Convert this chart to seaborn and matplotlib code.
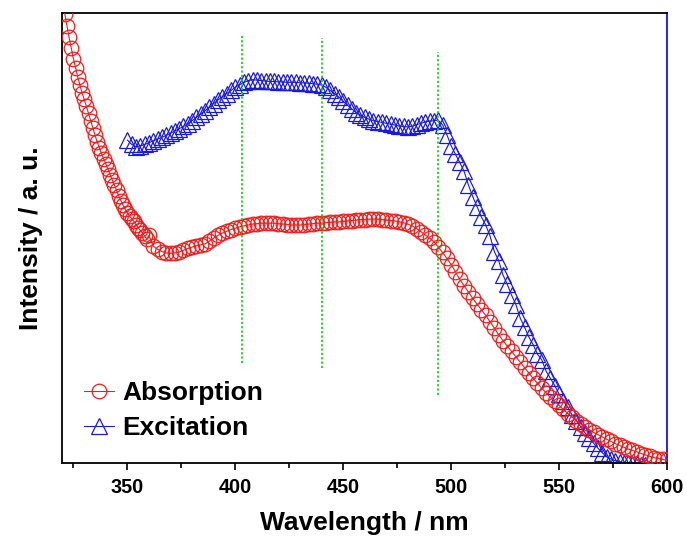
import numpy as np
import pandas as pd
import matplotlib
matplotlib.use("Agg")
import matplotlib.pyplot as plt
import seaborn as sns

# Absorption spectrum: 1 nm steps on the steep UV edge, 2 nm steps afterwards
abs_nm = np.concatenate([np.arange(320, 361, 1), np.arange(362, 601, 2)])
abs_val = [
    1.030, 0.998, 0.972, 0.946, 0.922, 0.899, 0.878, 0.858, 0.840, 0.823,
    0.808, 0.793, 0.777, 0.761, 0.745, 0.729, 0.714, 0.700, 0.688, 0.676,
    0.665, 0.653, 0.641, 0.629, 0.618, 0.606, 0.594, 0.583, 0.573, 0.564,
    0.556, 0.549, 0.543, 0.537, 0.530, 0.523, 0.517, 0.511, 0.504, 0.498,
    0.506,
    # 362 .. 400
    0.482, 0.475, 0.470, 0.467, 0.466, 0.467, 0.469, 0.473, 0.477, 0.480,
    0.483, 0.485, 0.487, 0.493, 0.500, 0.506, 0.511, 0.515, 0.519, 0.522,
    # 402 .. 440
    0.525, 0.527, 0.529, 0.531, 0.532, 0.533, 0.533, 0.533, 0.533, 0.532,
    0.531, 0.530, 0.529, 0.529, 0.529, 0.530, 0.531, 0.532, 0.533, 0.533,
    # 442 .. 480
    0.534, 0.535, 0.536, 0.536, 0.537, 0.538, 0.539, 0.540, 0.541, 0.541,
    0.542, 0.542, 0.542, 0.541, 0.540, 0.539, 0.538, 0.536, 0.534, 0.531,
    # 482 .. 520
    0.527, 0.521, 0.514, 0.507, 0.500, 0.492, 0.480, 0.468, 0.455, 0.441,
    0.425, 0.408, 0.394, 0.380, 0.366, 0.353, 0.341, 0.328, 0.314, 0.300,
    # 522 .. 560
    0.285, 0.272, 0.260, 0.248, 0.236, 0.224, 0.212, 0.200, 0.188, 0.177,
    0.166, 0.156, 0.146, 0.137, 0.128, 0.119, 0.110, 0.102, 0.094, 0.087,
    # 562 .. 600
    0.080, 0.074, 0.068, 0.063, 0.058, 0.053, 0.048, 0.043, 0.039, 0.035,
    0.031, 0.028, 0.025, 0.021, 0.018, 0.015, 0.012, 0.010, 0.008, 0.006,
]

# Excitation spectrum, 2 nm steps
exc_nm = np.arange(350, 591, 2)
exc_val = [
    # 350 .. 398
    0.718, 0.708, 0.703, 0.705, 0.708, 0.712, 0.716, 0.720, 0.724, 0.728,
    0.733, 0.738, 0.743, 0.748, 0.754, 0.761, 0.768, 0.776, 0.783, 0.791,
    0.799, 0.807, 0.814, 0.821, 0.828,
    # 400 .. 448
    0.835, 0.841, 0.846, 0.850, 0.852, 0.851, 0.850, 0.849, 0.848, 0.848,
    0.847, 0.847, 0.846, 0.846, 0.846, 0.845, 0.845, 0.844, 0.843, 0.842,
    0.840, 0.835, 0.828, 0.821, 0.813,
    # 450 .. 498
    0.804, 0.795, 0.787, 0.779, 0.773, 0.768, 0.764, 0.761, 0.759, 0.757,
    0.755, 0.753, 0.751, 0.749, 0.748, 0.747, 0.749, 0.752, 0.755, 0.758,
    0.760, 0.761, 0.762, 0.752, 0.730,
    # 500 .. 548
    0.705, 0.686, 0.668, 0.648, 0.618, 0.592, 0.570, 0.547, 0.529, 0.505,
    0.470, 0.450, 0.418, 0.397, 0.373, 0.352, 0.322, 0.302, 0.280, 0.263,
    0.242, 0.229, 0.204, 0.188, 0.172,
    # 550 .. 590
    0.153, 0.138, 0.124, 0.107, 0.094, 0.081, 0.067, 0.056, 0.044, 0.033,
    0.023, 0.014, 0.009, 0.005, 0.003, 0.001, 0.000, -0.002, -0.003, -0.004,
    -0.005,
]

# Dotted guide lines at the excitation features
guide_nm = [403, 440, 494]
guide_top = [0.951, 0.944, 0.913]
guide_bottom = [0.222, 0.212, 0.151]

absorption = pd.DataFrame({"nm": abs_nm, "val": abs_val})
excitation = pd.DataFrame({"nm": exc_nm, "val": exc_val})

sns.set_style("ticks")
plt.rcParams["font.family"] = ["Liberation Sans", "DejaVu Sans"]
plt.rcParams["font.weight"] = "bold"
plt.rcParams["text.color"] = "black"
plt.rcParams["axes.labelcolor"] = "black"
plt.rcParams["xtick.color"] = "black"
plt.rcParams["xtick.labelcolor"] = "black"

fig = plt.figure(figsize=(6.87, 5.46), dpi=100)
ax = fig.add_axes([0.0902, 0.152, 0.8807, 0.824])

red = "#ee1c1c"
blue = "#1a1adf"

sns.lineplot(data=absorption, x="nm", y="val", ax=ax, sort=False,
             color=red, lw=0.8, marker="o", markersize=10.5,
             markerfacecolor="none", markeredgecolor=red,
             markeredgewidth=0.9, label="Absorption", zorder=3)
sns.lineplot(data=excitation, x="nm", y="val", ax=ax, sort=False,
             color=blue, lw=0.8, marker="^", markersize=11,
             markerfacecolor="none", markeredgecolor=blue,
             markeredgewidth=0.9, label="Excitation", zorder=2)

ax.vlines(guide_nm, guide_bottom, guide_top, colors="#22cc22",
          linestyles=(0, (1.2, 1.2)), lw=1.3, zorder=4)

ax.set_xlim(319.7, 600)
ax.set_ylim(0, 1)
ax.set_xticks([350, 400, 450, 500, 550, 600])
ax.set_xticks(np.arange(325, 600, 50), minor=True)
ax.set_yticks([])
ax.tick_params(axis="x", which="major", direction="out", length=5,
               width=1.2, labelsize=14.3, pad=6, color="black",
               labelcolor="black")
ax.tick_params(axis="x", which="minor", direction="out", length=3.5,
               width=1.2, color="black")
for lab in ax.get_xticklabels():
    lab.set_fontweight("bold")

for side in ["left", "bottom", "top"]:
    ax.spines[side].set_color("black")
    ax.spines[side].set_linewidth(1.3)
ax.spines["right"].set_color("#1010ee")
ax.spines["right"].set_linewidth(1.3)

ax.set_xlabel("Wavelength / nm", fontsize=19, fontweight="bold", labelpad=10,
              color="black")
ax.set_ylabel("Intensity / a. u.", fontsize=19, fontweight="bold", labelpad=14,
              color="black")

leg = ax.legend(loc="lower left", bbox_to_anchor=(0.01, 0.015), frameon=False,
                prop={"size": 19, "weight": "bold"}, handlelength=1.15,
                handletextpad=0.3, labelspacing=0.42, borderaxespad=0.2)
for t in leg.get_texts():
    t.set_color("black")

fig.savefig("out.png", dpi=100)
